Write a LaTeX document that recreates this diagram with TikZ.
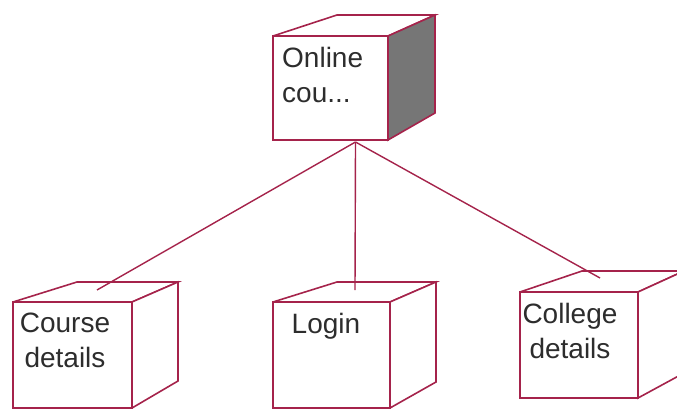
\documentclass[tikz,border=0pt]{standalone}
\usepackage{fontspec}
\setmainfont{Liberation Sans}
\definecolor{edgecol}{RGB}{165,35,75}
\definecolor{shade}{RGB}{118,118,118}
\definecolor{txt}{RGB}{45,45,45}
\tikzset{
  face/.style={draw=edgecol, line width=1.6pt, fill=white, inner sep=0pt, outer sep=0pt, anchor=north west},
  rim/.style={draw=edgecol, line width=1.6pt, line join=miter},
  link/.style={draw=edgecol, line width=1.4pt},
  label/.style={text=txt, inner sep=0pt, font=\fontsize{28}{35}\selectfont},
}
% \boxsides{node}{dx left}{dx right}{dy}{side rise}{fill}
\newcommand\boxsides[6]{%
  \draw[rim] (#1.north west) -- ++(#2,-#4) -- ([shift={(#3,-#4)}]#1.north east) -- (#1.north east);
  \filldraw[rim, fill=#6] (#1.north east) -- ++(#3,-#4) -- ([shift={(#3,-#5)}]#1.south east) -- (#1.south east) -- cycle;
}
\begin{document}
\begin{tikzpicture}[x=1pt,y=-1pt]
\useasboundingbox (0,0) rectangle (677,409);
\clip (0,0) rectangle (677,409);
% top node
\node[face, minimum width=115pt, minimum height=104pt] (oc) at (273,36) {};
\boxsides{oc}{64}{47}{21}{27}{shade}
% children
\node[face, minimum width=119pt, minimum height=106pt] (cd) at (13,302) {};
\boxsides{cd}{64}{46}{20}{27}{white}
\node[face, minimum width=117pt, minimum height=106pt] (lg) at (273,302) {};
\boxsides{lg}{64}{46}{20}{26}{white}
\node[face, minimum width=118pt, minimum height=106pt] (cl) at (520,292) {};
\boxsides{cl}{62}{46}{21}{25}{white}
% labels
\node[label, anchor=north west, align=left] (oct) at (282,47) {Online\\cou...};
\node[label, anchor=north, align=center] (cdt) at (65,313) {Course\\details};
\node[label, anchor=north, align=center] (lgt) at (326,313) {Login};
\node[label, anchor=north, align=center] (clt) at (570,303) {College\\details};
% ports
\coordinate (hub) at ([xshift=25pt, yshift=-2pt]oc.south);
\coordinate (cdp) at ([shift={(84,-12)}]cd.north west);
\coordinate (lgp) at ([shift={(82,-12)}]lg.north west);
\coordinate (clp) at ([shift={(80,-14)}]cl.north west);
\draw[link] (hub) -- (cdp);
\draw[link] (hub) -- (lgp);
\draw[link] (hub) -- (clp);
\end{tikzpicture}
\end{document}
